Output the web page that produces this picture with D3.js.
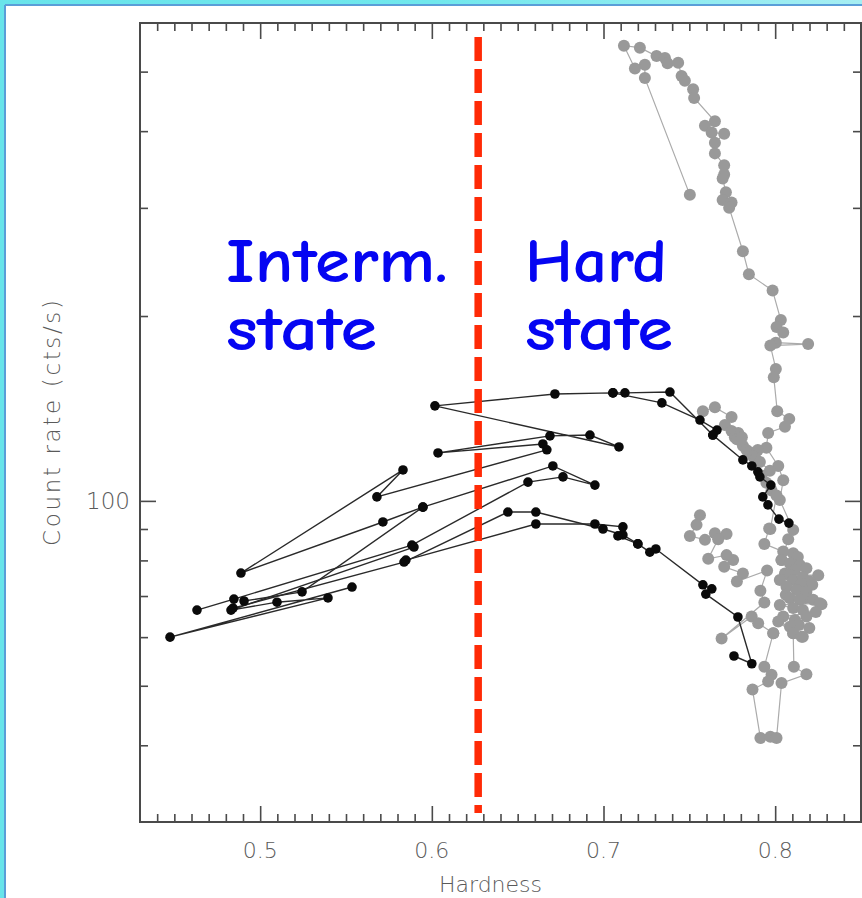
<!DOCTYPE html>
<html>
<head>
<meta charset="utf-8">
<script src="https://cdn.jsdelivr.net/npm/d3@7"></script>
<style>
  html, body { margin: 0; padding: 0; background: #ffffff; }
  svg { display: block; }
</style>
</head>
<body>
<svg id="chart" width="862" height="898"></svg>
<script>
// Hardness–intensity diagram: count rate (log) against hardness ratio.
// Each track is a list of [hardness, count rate] pairs joined in time order.

const xMajorTicks = [0.5, 0.6, 0.7, 0.8];
const xTickLabels = ["0.5", "0.6", "0.7", "0.8"];
const yMajorTicks = [100];
const yTickLabels = ["100"];
const yMinorTicks = [40, 50, 60, 70, 80, 90, 200, 300, 400, 500];
const stateBoundary = 0.627;

// Black outburst tracks
const blackArc = [
  [0.8080, 92.0], [0.8022, 93.4], [0.7958, 98.5], [0.7928, 101.5], [0.7975, 106.1],
  [0.7911, 109.4], [0.7899, 111.5], [0.7864, 114.0], [0.7812, 116.6], [0.7637, 128.0],
  [0.7661, 130.4], [0.7562, 135.4], [0.7340, 144.4], [0.7055, 149.9], [0.6717, 149.3],
  [0.6018, 142.8], [0.7090, 122.4], [0.6921, 128.0], [0.6688, 127.6], [0.6036, 119.7],
  [0.6647, 123.8], [0.6670, 121.1], [0.5680, 101.5], [0.5832, 112.3], [0.4888, 76.3],
  [0.5715, 92.4], [0.5948, 97.7], [0.6705, 114.0], [0.6950, 106.1], [0.6764, 109.4],
  [0.6560, 107.3], [0.5884, 84.7], [0.4847, 69.2], [0.4632, 66.4]
];
const blackPeak = [[0.7055, 149.9], [0.7125, 149.9], [0.7387, 150.4], [0.7637, 128.0]];
const blackFan = [[0.5535, 72.4], [0.4475, 60.0], [0.5395, 69.5], [0.5098, 68.4], [0.4830, 66.4], [0.5896, 84.1]];
const blackRise = [[0.4906, 68.7], [0.5244, 71.1], [0.5948, 97.7]];
const blackLowerArc = [
  [0.4842, 66.9], [0.5838, 79.5], [0.6443, 95.9], [0.6606, 95.9], [0.6997, 90.0],
  [0.7113, 88.0], [0.7200, 85.1], [0.7270, 82.5], [0.7305, 83.5], [0.7579, 73.0],
  [0.7631, 71.9], [0.7596, 70.5], [0.7783, 64.7], [0.7864, 54.3], [0.7760, 55.9]
];
const blackSideArc = [[0.5849, 80.1], [0.6606, 91.7], [0.6950, 91.7], [0.7113, 90.7], [0.7084, 87.7], [0.7200, 85.1]];

// Grey outburst tracks
const greyDescent = [
  [0.7503, 315], [0.7241, 488], [0.7241, 513], [0.7183, 506], [0.7119, 551], [0.7212, 547],
  [0.7309, 530], [0.7358, 526], [0.7373, 516], [0.7435, 517], [0.7455, 492], [0.7474, 483],
  [0.7522, 468], [0.7528, 453], [0.7649, 415], [0.7591, 408], [0.7630, 398], [0.7703, 396],
  [0.7649, 383], [0.7649, 368], [0.7703, 352], [0.7703, 340], [0.7694, 335], [0.7713, 318],
  [0.7694, 309], [0.7746, 306], [0.7732, 300], [0.7812, 255], [0.7847, 234], [0.7985, 220],
  [0.8033, 197], [0.8008, 192], [0.8047, 188], [0.8004, 181], [0.8192, 180], [0.7972, 179],
  [0.8004, 164], [0.7992, 159], [0.8012, 140], [0.8082, 136], [0.8057, 132], [0.7959, 129],
  [0.7949, 122], [0.8018, 114], [0.8047, 108], [0.8027, 100.3], [0.8105, 89.7], [0.8076, 86.6],
  [0.8037, 80.1]
];
const greyArc = [
  [0.7579, 140], [0.7649, 142], [0.7746, 137], [0.7707, 132.9], [0.7746, 130], [0.7785, 129],
  [0.7765, 127], [0.7777, 126], [0.7806, 127], [0.7812, 123], [0.7833, 121], [0.7853, 120],
  [0.7899, 121], [0.7872, 118], [0.7888, 117], [0.7911, 115.7], [0.7969, 112], [0.7921, 110],
  [0.7949, 107], [0.7979, 104], [0.8008, 102], [0.7972, 90.0], [0.7965, 90.2], [0.7937, 85.1],
  [0.8047, 82.7], [0.8105, 82.2]
];
const greyCluster = [
  [0.8037, 80.1], [0.8132, 81.0], [0.8086, 79.1], [0.8144, 78.6], [0.8182, 77.7], [0.8115, 77.2],
  [0.8057, 76.2], [0.8086, 75.7], [0.8251, 75.7], [0.8027, 74.3], [0.8105, 74.3], [0.8161, 75.2],
  [0.8202, 73.9], [0.8150, 73.2], [0.8216, 73.0], [0.8066, 72.5], [0.8125, 71.6], [0.8182, 71.1],
  [0.8062, 70.3], [0.8178, 69.5], [0.8086, 69.4], [0.8144, 69.0], [0.8221, 69.0], [0.8270, 67.9],
  [0.8260, 68.1], [0.8027, 67.7], [0.8105, 66.9], [0.8161, 66.4], [0.8237, 65.9], [0.8047, 64.8],
  [0.8115, 64.0], [0.8182, 64.8], [0.8138, 62.8], [0.8199, 62.1], [0.8086, 62.4], [0.8018, 63.6],
  [0.8105, 60.9], [0.8161, 60.1]
];
const greyLeftLoop = [
  [0.7562, 94.8], [0.7542, 91.4], [0.7503, 87.7], [0.7591, 86.4], [0.7649, 88.6], [0.7717, 88.3],
  [0.7668, 86.6], [0.7610, 80.5], [0.7717, 81.6], [0.7755, 80.1], [0.7703, 78.1], [0.7812, 76.2],
  [0.7777, 73.9], [0.7953, 77.0], [0.7914, 71.4], [0.7937, 68.3], [0.7688, 59.7], [0.7863, 64.8],
  [0.7901, 63.2], [0.7989, 60.9]
];
const greyTail = [
  [0.7989, 60.9], [0.7937, 53.7], [0.7979, 52.1], [0.7959, 50.8], [0.7868, 49.3], [0.7914, 41.1],
  [0.7972, 41.3], [0.8008, 41.1], [0.8037, 50.5], [0.8182, 52.2], [0.8109, 53.7], [0.8105, 60.9],
  [0.8154, 60.1]
];

const blackTracks = [blackArc, blackPeak, blackFan, blackRise, blackLowerArc, blackSideArc];
const greyTracks = [greyDescent, greyArc, greyCluster, greyLeftLoop, greyTail];

const svg = d3.select("#chart");
const W = 862, H = 898;

// Slide frame: cyan band with a blue rule, white panel
const defs = svg.append("defs");
const grad = defs.append("linearGradient").attr("id", "band").attr("x1", "0").attr("x2", "1");
grad.append("stop").attr("offset", "0").attr("stop-color", "#68e4ea");
grad.append("stop").attr("offset", "0.5").attr("stop-color", "#70e8ec");
grad.append("stop").attr("offset", "1").attr("stop-color", "#a6eef2");
svg.append("rect").attr("width", W).attr("height", H).attr("fill", "url(#band)");
svg.append("rect").attr("x", 6).attr("y", 6).attr("width", W).attr("height", H).attr("fill", "#ffffff");
svg.append("line").attr("x1", 5).attr("x2", W).attr("y1", 5).attr("y2", 5)
  .attr("stroke", "#5a9ed8").attr("stroke-width", 2);
svg.append("line").attr("x1", 5).attr("x2", 5).attr("y1", 5).attr("y2", H)
  .attr("stroke", "#5a9ed8").attr("stroke-width", 2);

const plot = { left: 140, right: 861, top: 23, bottom: 822 };
const x = d3.scaleLinear().domain([0.43, 0.85]).range([plot.left, plot.right]);
const y = d3.scaleLog().domain([30, 600]).range([plot.bottom, plot.top]);

const axisColor = "#4a4a4a";
const textColor = "#5a5a5a";
const xMinorTicks = d3.range(44, 85).map(v => v / 100).filter(v => !xMajorTicks.some(m => Math.abs(m - v) < 1e-9));

function styleAxis(g) {
  g.select(".domain").remove();
  g.selectAll(".tick line").attr("stroke", axisColor).attr("stroke-width", 1.6);
  g.selectAll(".tick text").remove();
}

// Inward ticks on all four sides
const tickSets = [
  [d3.axisBottom(x).tickValues(xMinorTicks).tickSize(-8), plot.bottom],
  [d3.axisBottom(x).tickValues(xMajorTicks).tickSize(-16), plot.bottom],
  [d3.axisTop(x).tickValues(xMinorTicks).tickSize(-8), plot.top],
  [d3.axisTop(x).tickValues(xMajorTicks).tickSize(-16), plot.top]
];
tickSets.forEach(([ax, ty]) => {
  svg.append("g").attr("transform", `translate(0,${ty})`).call(ax).call(styleAxis);
});
const yTickSets = [
  [d3.axisLeft(y).tickValues(yMinorTicks).tickSize(-8), plot.left],
  [d3.axisLeft(y).tickValues(yMajorTicks).tickSize(-16), plot.left],
  [d3.axisRight(y).tickValues(yMinorTicks).tickSize(-8), plot.right],
  [d3.axisRight(y).tickValues(yMajorTicks).tickSize(-16), plot.right]
];
yTickSets.forEach(([ax, tx]) => {
  svg.append("g").attr("transform", `translate(${tx},0)`).call(ax).call(styleAxis);
});

// Plot box
svg.append("rect")
  .attr("x", plot.left).attr("y", plot.top)
  .attr("width", plot.right - plot.left).attr("height", plot.bottom - plot.top)
  .attr("fill", "none").attr("stroke", axisColor).attr("stroke-width", 2);

// Tick labels
const labelFont = "'DejaVu Sans', 'Liberation Sans', sans-serif";
svg.append("g").selectAll("text").data(xMajorTicks).join("text")
  .attr("x", d => x(d)).attr("y", 858)
  .attr("text-anchor", "middle")
  .attr("font-family", labelFont).attr("font-size", 22).attr("font-weight", 300)
  .attr("fill", textColor)
  .text((d, i) => xTickLabels[i]);
svg.append("g").selectAll("text").data(yMajorTicks).join("text")
  .attr("x", 130).attr("y", d => y(d) + 8)
  .attr("text-anchor", "end")
  .attr("font-family", labelFont).attr("font-size", 23).attr("font-weight", 300)
  .attr("fill", textColor)
  .text((d, i) => yTickLabels[i]);

// Axis titles
svg.append("text")
  .attr("x", (plot.left + plot.right) / 2 - 10).attr("y", 892)
  .attr("text-anchor", "middle")
  .attr("font-family", labelFont).attr("font-size", 22).attr("font-weight", 300)
  .attr("fill", textColor)
  .text("Hardness");
svg.append("text")
  .attr("transform", "translate(60,423) rotate(-90)")
  .attr("text-anchor", "middle")
  .attr("font-family", labelFont).attr("font-size", 23).attr("font-weight", 300)
  .attr("textLength", 246).attr("lengthAdjust", "spacing")
  .attr("fill", textColor)
  .text("Count rate (cts/s)");

// Data tracks
const line = d3.line().x(d => x(d[0])).y(d => y(d[1]));
const greyG = svg.append("g");
greyTracks.forEach(track => {
  greyG.append("path").attr("d", line(track))
    .attr("fill", "none").attr("stroke", "#ababab").attr("stroke-width", 1.2);
});
greyTracks.forEach(track => {
  greyG.append("g").selectAll("circle").data(track).join("circle")
    .attr("cx", d => x(d[0])).attr("cy", d => y(d[1])).attr("r", 6)
    .attr("fill", "#999999");
});
const blackG = svg.append("g");
blackTracks.forEach(track => {
  blackG.append("path").attr("d", line(track))
    .attr("fill", "none").attr("stroke", "#2a2a2a").attr("stroke-width", 1.4);
});
blackTracks.forEach(track => {
  blackG.append("g").selectAll("circle").data(track).join("circle")
    .attr("cx", d => x(d[0])).attr("cy", d => y(d[1])).attr("r", 4.8)
    .attr("fill", "#0a0a0a");
});

// State boundary
svg.append("line")
  .attr("x1", x(stateBoundary)).attr("x2", x(stateBoundary))
  .attr("y1", plot.top + 14).attr("y2", plot.bottom - 9)
  .attr("stroke", "#ff2a06").attr("stroke-width", 7.5)
  .attr("stroke-dasharray", "24,8");

// State annotations
const noteFont = "'Comic Sans MS', 'Comic Neue', Lato, 'Open Sans', sans-serif";
const notes = [
  { t: "Interm.", x: 226, y: 282, w: 222 },
  { t: "state", x: 226, y: 350, w: 151 },
  { t: "Hard", x: 525, y: 282, w: 142 },
  { t: "state", x: 525, y: 350, w: 148 }
];
svg.append("g").selectAll("text").data(notes).join("text")
  .attr("x", d => d.x).attr("y", d => d.y)
  .attr("font-family", noteFont).attr("font-size", 62).attr("font-weight", 900)
  .attr("fill", "#0505f2")
  .attr("textLength", d => d.w).attr("lengthAdjust", "spacingAndGlyphs")
  .text(d => d.t);
</script>
</body>
</html>
